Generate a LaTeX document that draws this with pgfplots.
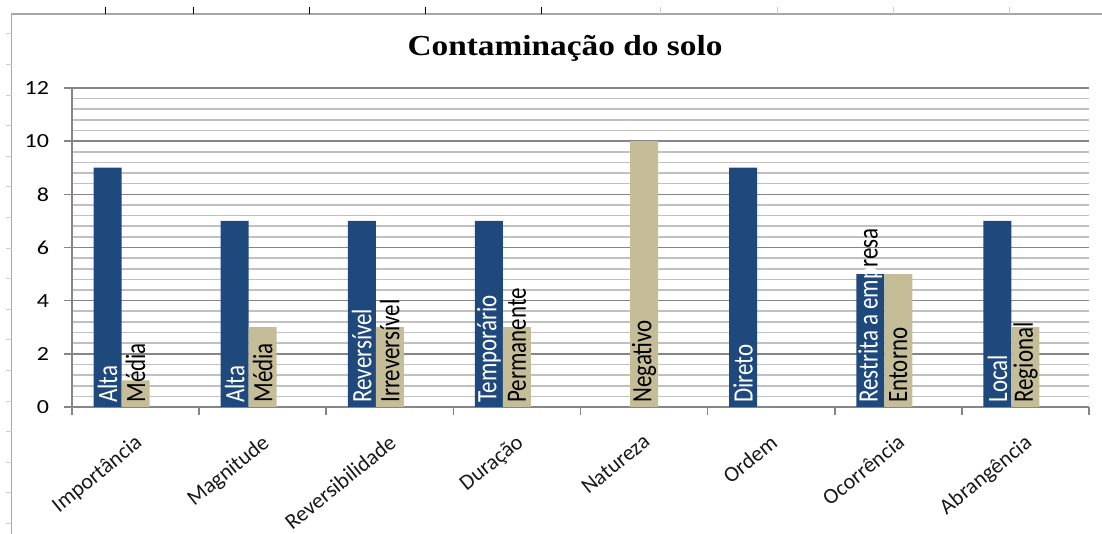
\documentclass[border=0pt]{standalone}
\usepackage{fontspec}
\setmainfont{Carlito}
\newfontfamily\titlefont{Liberation Serif}
\usepackage{pgfplots}
\usepackage{pgfplotstable}
\pgfplotsset{compat=1.18}
\definecolor{myblue}{HTML}{1F497D}
\definecolor{mytan}{HTML}{C4BD97}
\definecolor{gmajor}{RGB}{134,134,134}
\definecolor{gminor}{RGB}{192,192,192}
\protected\def\RAE{\textcolor{white}{Restrita a emp}\textcolor{black}{resa}}

\pgfplotstableread{
x y lab
0 9 Alta
1 7 Alta
2 7 Reversível
3 7 Temporário
5 9 Direto
6 5 \RAE
7 7 Local
}\bluedata

\pgfplotstableread{
x y lab
0 1 Média
1 3 Média
2 3 Irreversível
3 3 Permanente
4 10 Negativo
6 5 Entorno
7 3 Regional
}\tandata

\begin{document}
\begin{tikzpicture}
\useasboundingbox (0,0) rectangle (551pt,267pt);
% outer frame
\draw[gray!70, line width=0.7pt] (5.75pt,0pt) -- (5.75pt,260pt) -- (551pt,260pt);
\foreach \xx in {52.5,96.5,154.5,212.5,270.5}
  \draw[black, line width=0.5pt] (\xx pt,260pt) -- (\xx pt,263.5pt);
\foreach \xx in {330,388.5,446.5,504.5}
  \draw[gray!40, line width=0.5pt] (\xx pt,260pt) -- (\xx pt,263.5pt);
\foreach \yy in {34,64.6,95.2,125.8,156.4,187,217.6,248.2,278.8,309.4,340,370.6,401.2,431.8,462.4,493,523.6}
  \draw[gray!40, line width=0.5pt] (3pt,267pt-\yy*0.5pt) -- (5.75pt,267pt-\yy*0.5pt);

\node[anchor=base, font=\titlefont\bfseries\fontsize{14.5}{17}\selectfont] at (282.5pt,239pt) {\scalebox{1.15}[1]{Contaminação do solo}};

\begin{axis}[
  at={(36pt,63.5pt)}, anchor=south west,
  scale only axis, width=508.5pt, height=159.5pt,
  xmin=-0.5, xmax=7.5, ymin=0, ymax=12,
  axis x line*=bottom, axis y line*=left,
  axis line style={gmajor, line width=0.8pt},
  /pgf/number format/assume math mode=true,
  ytick={0,2,...,12},
  yticklabel={\scalebox{1.2}[1]{\pgfmathprintnumber{\tick}}},
  minor y tick num=4,
  ymajorgrids, yminorgrids,
  major grid style={gmajor, line width=0.8pt},
  minor grid style={gminor, line width=0.8pt},
  tick align=outside,
  major tick length=4pt, minor tick length=0pt,
  tick style={gmajor, line width=0.8pt},
  yticklabel style={font=\fontsize{10}{12}\selectfont, text=black, xshift=-4pt},
  xtick={-0.5,0.5,...,7.5},
  x tick label as interval,
  xticklabels={Importância,Magnitude,Reversibilidade,Duração,Natureza,Ordem,Ocorrência,Abrangência},
  xticklabel style={font=\fontsize{11}{13}\selectfont, text=black!90, rotate=39, anchor=north east, yshift=-3pt, xshift=-3pt},
  clip=false,
]
\addplot[ybar, bar width=14pt, bar shift=-14pt, fill=myblue, draw=none] table[x=x,y=y]{\bluedata};
\addplot[ybar, bar width=14pt, bar shift=0pt, fill=mytan, draw=none] table[x=x,y=y]{\tandata};
\addplot[draw=none, mark=none, nodes near coords={\scalebox{1}[1.22]{\pgfplotspointmeta}}, point meta=explicit symbolic,
  every node near coord/.style={xshift=-14pt, rotate=90, anchor=west, inner sep=2pt,
    font=\fontsize{11.5}{13}\selectfont, text=white}]
  table[x=x, y expr=0, meta=lab]{\bluedata};
\addplot[draw=none, mark=none, nodes near coords={\scalebox{1}[1.22]{\pgfplotspointmeta}}, point meta=explicit symbolic,
  every node near coord/.style={rotate=90, anchor=west, inner sep=2pt,
    font=\fontsize{11.5}{13}\selectfont, text=black}]
  table[x=x, y expr=0, meta=lab]{\tandata};
\end{axis}
\end{tikzpicture}
\end{document}
